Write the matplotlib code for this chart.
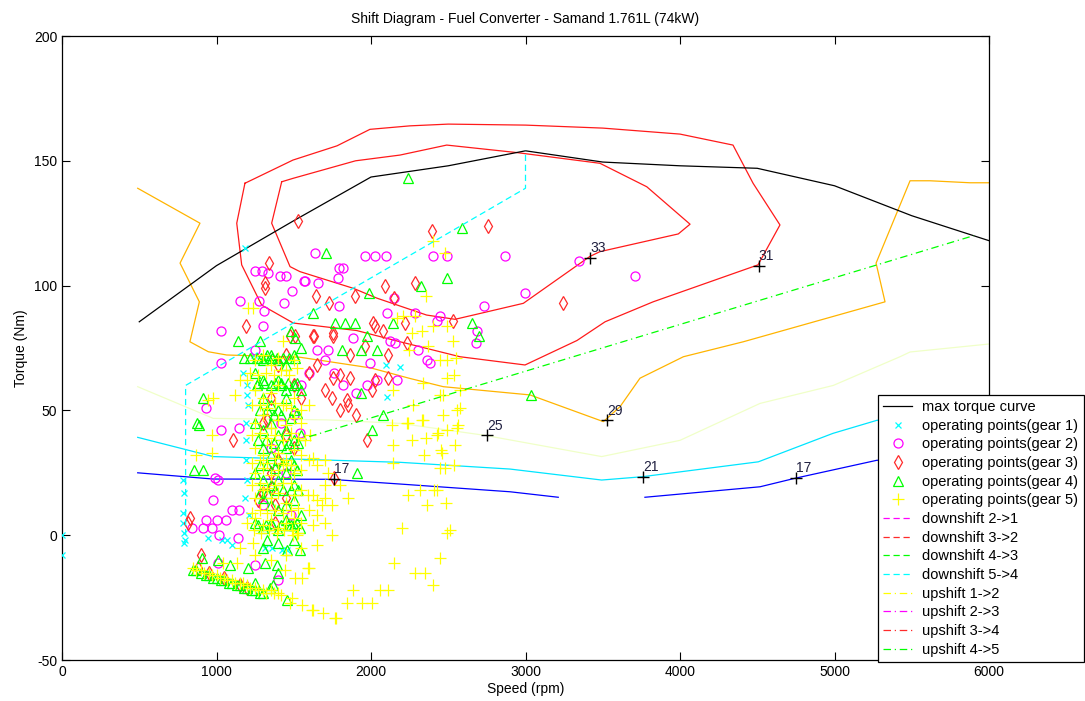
import matplotlib
matplotlib.use("Agg")
import matplotlib.pyplot as plt

plt.rcParams['font.family'] = ['Liberation Sans', 'DejaVu Sans']
plt.rcParams['axes.unicode_minus'] = False

# max torque curve
tq_rpm = [500, 1000, 1500, 2000, 2500, 3000, 3500, 4000, 4500, 5000, 5500, 6000]
tq_max = [85.5, 108, 126, 143.5, 148, 154, 149.5, 148, 147, 140, 128, 118]

# efficiency contour lines
c33_rpm = [1422, 1497, 1900, 2188, 2490, 2943, 3482, 3785, 4065, 3989, 3482, 3417,
           2986, 2662, 2544, 2360, 2037, 1886, 1540, 1476, 1357, 1422]
c33_tq = [141.6, 143, 150, 152.3, 156.3, 153.3, 149, 139.6, 124.6, 120.7, 113.6, 111.7,
          92.9, 88.2, 86.5, 88.2, 95, 98.9, 105.6, 107.6, 125, 141.6]
c31_rpm = [1184, 1495, 1780, 1993, 2252, 2500, 3000, 3500, 4000, 4343, 4473, 4647,
           4505, 3826, 3515, 3333, 2997, 2576, 2188, 1907, 1497, 1292, 1163, 1131, 1184]
c31_tq = [141, 150.3, 156, 162.6, 164, 164.7, 164.3, 163.1, 160.7, 156.3, 141, 124.3,
          108.3, 93.5, 85.5, 78, 68.2, 71.5, 77.5, 82, 85, 92.2, 108.3, 125, 141]
c29_rpm = [490, 893, 764, 889, 828, 947, 1066, 1540, 2000, 2252, 2468, 3029, 3504,
           3612, 3741, 4022, 4410, 5327, 5269, 5489, 5618, 5877, 6000]
c29_tq = [139, 125, 109, 93.5, 77.5, 73.5, 72.2, 71.3, 67, 62.8, 59.5, 56.2, 45.5,
          51.5, 62.9, 71.5, 77.5, 93.5, 109, 142, 142, 141.2, 141.2]
c25_rpm = [490, 979, 1713, 2188, 2738, 3493, 4000, 4518, 4992, 5424, 5489, 6000]
c25_tq = [59.5, 46.8, 46.2, 44.8, 40, 31.5, 38, 52.8, 60, 71.5, 73.4, 76.6]
c21_rpm = [490, 979, 2188, 2900, 3493, 3752, 4507, 4990, 5273, 6000]
c21_tq = [39.2, 31.5, 29.2, 26.5, 22.1, 23.4, 29.4, 40.8, 46, 53]
c17a_rpm = [490, 979, 1735, 2188, 2900, 3212]
c17a_tq = [25, 22.5, 22.4, 20.5, 17.4, 15.2]
c17b_rpm = [3773, 4518, 4744, 5273, 6000]
c17b_tq = [15.2, 19.4, 22.8, 30, 33]

lab_rpm = [3420, 4510, 3530, 2750, 3760, 1760, 4750]
lab_tq = [111, 108, 46, 40, 23.5, 22.5, 23]
lab_txt = ['33', '31', '29', '25', '21', '17', '17']

# shift lines
down54_rpm = [800, 800, 3000, 3000]
down54_tq = [0, 60, 139, 154]
up45_rpm = [1600, 5900]
up45_tq = [39.5, 120]

# operating points
g1_rpm = [0, 0, 792, 785, 781, 790, 796, 792, 785, 947, 1034, 1066, 1100, 1184, 1184,
          1174, 1195, 1195, 1206, 1190, 1190, 1190, 1200, 1314, 1357, 1422, 1454,
          2097, 2188, 2106, 1240, 1210]
g1_tq = [0, -8, 17, 9, 5, 1, -2, -3, 22, -1, -2, -2, -4, 15, 115,
         65, 60, 56, 52, 45, 38, 30, 22, -5, -5, -6, -6,
         68, 67.5, 55.5, 72, 8]

g2_rpm = [1638, 1961, 2026, 2097, 2399, 2490, 2867, 1795, 1820, 1788, 1573, 1659, 1249,
          1292, 1335, 1411, 1448, 1566, 1487, 1152, 1275, 1310, 1437, 1303, 1029, 1249,
          1029, 932, 1029, 1795, 2151, 2997, 2733, 2106, 2285, 2447, 2425, 2684, 2680,
          2123, 1885, 2155, 2306, 2365, 2382, 1994, 2037, 2166, 1972, 3346, 3709, 1724,
          1146, 1540, 990, 1012, 979, 1098, 932, 1001, 1061, 839, 910, 969, 1018, 1141,
          1148, 1012, 1650, 1700, 1600, 1550, 1760, 1820, 1900, 1500, 1420, 1350, 1450,
          1300, 1480, 1250, 1400]
g2_tq = [113, 112, 112, 112, 112, 112, 112, 107, 107, 103, 102, 101, 106,
         106, 105, 104, 104, 102, 98, 94, 94, 90, 93, 84, 82, 74,
         69, 51, 42, 92, 95, 97, 92, 89, 89, 88, 86, 82, 77,
         78, 79, 77, 74, 70, 69, 69, 62, 62, 60, 110, 104, 74,
         43, 41, 23, 22, 14, 10, 6, 6, 6, 3, 3, 3, 0, -1,
         10, -11, 74, 70, 65, 60, 65, 60, 57, 48, 45, 35, 25,
         12, 8, -12, -18]

g3_rpm = [2392, 2755, 2285, 2090, 1896, 1644, 1730, 2220, 2026, 2533, 1961, 2231, 2112,
          1864, 1756, 1627, 2026, 2112, 1864, 1843, 2004, 1754, 1800, 1530, 1342, 1314,
          1314, 2151, 1191, 1508, 1633, 1752, 2015, 2080, 3245, 1109, 828, 901, 1379,
          1357, 1271, 814, 1972, 1303, 1325, 1476, 1762, 1400, 1450, 1500, 1550, 1600,
          1650, 1700, 1750, 1800, 1850, 1900, 1350, 1300, 1450, 1500, 1400, 1350, 1450,
          1380, 880, 950, 1050, 1150, 1200]
g3_tq = [122, 124, 101, 100, 96, 96, 93, 85, 84, 86, 76, 77, 72,
         72, 81, 80, 62, 63, 63, 54, 58, 63, 64, 126, 109, 101,
         99, 95, 84, 80, 80, 80, 85, 82, 93, 38, 7, -8, 12,
         19, 14, 5, 38, 17, 46, 80, 23, 68, 72, 60, 55, 65,
         68, 58, 55, 50, 52, 48, 55, 45, 40, 35, 30, 25, 15,
         5, -13, -15, -17, -20, -21]

g4_rpm = [2239, 2587, 2490, 2322, 1989, 1709, 1627, 1767, 1832, 1896, 1972, 1810, 1935,
          2037, 2144, 2652, 2701, 1933, 3034, 1141, 1282, 1482, 1508, 910, 872, 889,
          2004, 2076, 857, 915, 1907, 1540, 1454, 1314, 1206, 1087, 1249, 1368, 1454,
          904, 1012, 1400, 1346,
          1300, 1350, 1400, 1450, 1500, 1550, 1250, 1300, 1350, 1400, 1450, 1500, 1550,
          1300, 1350, 1400, 1450, 1500, 1250, 1300, 1350, 1400, 1450, 1500, 1550,
          1300, 1350, 1400, 1450, 1500, 1250, 1300, 1350, 1400, 1450, 1500,
          1300, 1350, 1400, 1450, 1500, 1250, 1300, 1350, 1400, 1450, 1500, 1550,
          1300, 1400, 1500, 850, 900, 950, 1000, 1050, 1100, 1150, 1200, 1250, 1300,
          1180, 1220, 1260, 1330, 1420, 1480, 1520,
          1260, 1290, 1320, 1360, 1390, 1430, 1470, 1510, 1270, 1310, 1380, 1420, 1460,
          1520, 1280, 1330, 1370, 1420, 1480, 1520, 1270, 1320, 1370, 1420, 1470, 1530,
          1280, 1330, 1380, 1430, 1480, 1520, 1280, 1330, 1380, 1430, 1480, 1530, 1270,
          1320, 1360, 1420, 1460, 1500, 1540, 1330, 1390, 870, 930, 980, 1030, 1080,
          1130, 1180, 1230, 1280]
g4_tq = [143, 123, 103, 100, 97, 113, 89, 85, 85, 85, 80, 74, 74,
         74, 85, 85, 80, 57, 56, 78, 78, 82, 79, 55, 45, 44,
         42, 48, 26, 26, 25, -6, -6, -11, -13, -12, -19, -20, -26,
         -9, -10, -15, -21,
         70, 72, 70, 68, 72, 75, 65, 62, 60, 62, 58, 60, 58,
         55, 52, 50, 55, 50, 45, 42, 45, 40, 42, 38, 40,
         35, 32, 30, 35, 28, 25, 22, 20, 22, 25, 20,
         15, 12, 10, 12, 14, 5, 3, 5, 2, 6, 4, 8,
         -5, -3, -2, -14, -15, -16, -17, -18, -19, -20, -21, -22, -23,
         71, 71, 60, 72, 60, 4, 5,
         71, 71, 71, 71, 71, 71, 71, 71, 61, 61, 61, 61, 61,
         61, 50, 50, 48, 48, 47, 49, 38, 38, 37, 36, 37, 37,
         28, 28, 27, 28, 30, 26, 17, 17, 18, 18, 18, 18, 4,
         4, 4, 4, 4, 4, 3, -2, -12, -14, -16, -17, -18, -19,
         -20, -21, -22, -23]

g5_rpm = [2274, 2468, 2555, 2576, 2468, 2339, 2235, 2134, 2490, 2555, 2425, 2356, 2263,
          2140, 2544, 2451, 2343, 2144, 2447, 2479, 2537, 2408, 2425, 2242, 2317, 2360,
          2483, 2199, 2490, 2511, 2447, 2151, 2285, 2350, 2399, 2058, 2112, 1886, 1843,
          1940, 2004, 1773, 1692, 1627, 1551, 1476, 1594, 1627, 1594, 1627, 1627, 1573,
          1605,
          2403, 2479, 2356, 2285, 2166, 2209, 2403, 2490, 2328, 2263, 2533, 2371, 2248,
          2447, 2490, 2550, 2537, 2490, 2339, 2140, 2447, 2576, 2242, 2328, 2436, 2563,
          2458,
          979, 969, 867, 969, 1206, 1238, 1433, 1152, 1195, 947, 1120, 1044, 1131, 1238,
          1497, 1519, 1601, 1508, 1551, 1443, 1487, 1616, 1767,
          1250, 1300, 1350, 1400, 1450, 1500, 1250, 1300, 1350, 1400, 1450, 1500, 1550,
          1600, 1250, 1300, 1350, 1400, 1450, 1500, 1550, 1250, 1300, 1350, 1400, 1450,
          1500, 1550, 1600, 1250, 1300, 1350, 1400, 1450, 1500, 1550, 1650, 1700, 1250,
          1300, 1350, 1400, 1450, 1500, 1550, 1650, 1700, 1200, 1250, 1300, 1350, 1400,
          1450, 1500, 1550, 1150, 1250, 1350, 1450, 1550, 870, 920, 970, 1020, 1070,
          1120, 1170, 1220, 1270, 1320, 1370, 1420, 1650, 1700, 1750, 1800, 1750, 1850,
          1220, 1270, 1320, 1370, 1420, 1470, 1520, 1230, 1280, 1330, 1380, 1430, 1480,
          1230, 1280, 1330, 1380, 1430, 1480, 1530, 1230, 1280, 1330, 1380, 1430, 1480,
          1230, 1280, 1330, 1380, 1430, 1480, 1230, 1280, 1330, 1380, 1430, 1480, 1530,
          1240, 1290, 1340, 1390, 1440, 1490, 1530, 850, 900, 950, 1000, 1050, 1100,
          1150, 1200, 1250, 1300, 1350, 1400, 1600, 1650, 1680, 1700, 1720]
g5_tq = [52, 56, 50, 51, 48, 46, 45, 44, 42, 43, 40, 39, 38,
         36, 36, 34, 32, 29, 27, 27, 28, 18, 18, 16, 18, 12,
         13, 3, 1, 2, -9, -11, -15, -15, -20, -22, -22, -22, -27,
         -27, -27, -33, -31, -30, -28, -27, -13, 4, 16, 16, 31, 38,
         40,
         118, 113, 96, 88, 87, 88, 84, 84, 82, 81, 78, 76, 74,
         70, 70, 71, 64, 63, 61, 58, 56, 58, 45, 46, 41, 44,
         33,
         55, 40, 32, 33, 91, 91, 78, 62, 62, 54, 56, -11, -11, -3,
         0, 0, -13, -17, -17, -14, -25, -30, -33,
         70, 72, 68, 71, 66, 70, 58, 55, 57, 60, 52, 55, 50,
         52, 45, 48, 43, 46, 44, 47, 45, 35, 32, 36, 33, 30,
         34, 32, 30, 25, 27, 24, 26, 28, 25, 26, 28, 30, 15,
         18, 15, 17, 13, 16, 18, 14, 15, 5, 7, 4, 6, 3,
         5, 7, 5, -5, -8, -10, -8, -5, -14, -15, -16, -17, -18,
         -19, -19, -21, -22, -23, -23, -24, -4, 5, 12, 20, 0, 15,
         65, 64, 65, 64, 66, 64, 67, 52, 52, 51, 53, 52, 51,
         40, 41, 39, 40, 38, 41, 39, 29, 30, 29, 31, 29, 28,
         20, 21, 19, 20, 21, 21, 9, 10, 9, 10, 9, 10, 11,
         2, 1, 2, 1, 2, 2, 1, -13, -14, -15, -16, -17, -18,
         -19, -20, -21, -22, -22, -23, 10, 8, 12, 20, 25]

CYAN = "#00ffff"
MAGENTA = "#ff00ff"
RED = "#ff2a2a"
GREEN = "#00ff00"
YELLOW = "#ffff00"

fig = plt.figure(figsize=(10.85, 7.01), dpi=100)
ax = fig.add_axes([62 / 1085, 41 / 701, 927 / 1085, 624 / 701])

# contours
lw = 0.9
ax.plot(c17a_rpm, c17a_tq, color="#0000ff", lw=lw, zorder=1)
ax.plot(c17b_rpm, c17b_tq, color="#0000ff", lw=lw, zorder=1)
ax.plot(c21_rpm, c21_tq, color="#00e5ff", lw=lw, zorder=1)
ax.plot(c25_rpm, c25_tq, color="#f0ffc8", lw=lw, zorder=1)
ax.plot(c29_rpm, c29_tq, color="#ffb400", lw=lw, zorder=1)
ax.plot(c31_rpm, c31_tq, color="#ff1a1a", lw=lw, zorder=1)
ax.plot(c33_rpm, c33_tq, color="#ff1a1a", lw=lw, zorder=1)
ax.plot(lab_rpm, lab_tq, "+", color="black", ms=8, mew=1, zorder=6)
for x, y, s in zip(lab_rpm, lab_tq, lab_txt):
    ax.annotate(s, (x, y), xytext=(0, 2), textcoords="offset points",
                fontsize=10, color="#202040", ha="left", va="bottom", zorder=6)

h_max, = ax.plot(tq_rpm, tq_max, color="black", lw=0.9, label="max torque curve", zorder=2)

mk = dict(linestyle="none", mfc="none", mew=0.9, zorder=3)
h1, = ax.plot(g1_rpm, g1_tq, marker="x", color=CYAN, ms=5, label="operating points(gear 1)", **mk)
h2, = ax.plot(g2_rpm, g2_tq, marker="o", color=MAGENTA, ms=6.5, label="operating points(gear 2)", **mk)
h3, = ax.plot(g3_rpm, g3_tq, marker="d", color=RED, ms=7, label="operating points(gear 3)", **mk)
h4, = ax.plot(g4_rpm, g4_tq, marker="^", color=GREEN, ms=7, label="operating points(gear 4)", **mk)
h5, = ax.plot(g5_rpm, g5_tq, marker="+", color=YELLOW, ms=8, label="operating points(gear 5)", **mk)

dash = (0, (5, 3))
dashdot = (0, (6, 3, 1, 3))
d21, = ax.plot([], [], color=MAGENTA, ls=dash, lw=0.9, label="downshift 2->1")
d32, = ax.plot([], [], color=RED, ls=dash, lw=0.9, label="downshift 3->2")
d43, = ax.plot([], [], color=GREEN, ls=dash, lw=0.9, label="downshift 4->3")
d54, = ax.plot(down54_rpm, down54_tq, color=CYAN, ls=dash, lw=0.9, label="downshift 5->4", zorder=4)
u12, = ax.plot([], [], color=YELLOW, ls=dashdot, lw=0.9, label="upshift 1->2")
u23, = ax.plot([], [], color=MAGENTA, ls=dashdot, lw=0.9, label="upshift 2->3")
u34, = ax.plot([], [], color=RED, ls=dashdot, lw=0.9, label="upshift 3->4")
u45, = ax.plot(up45_rpm, up45_tq, color=GREEN, ls=dashdot, lw=0.9, label="upshift 4->5", zorder=4)

ax.set_xlim(0, 6000)
ax.set_ylim(-50, 200)
ax.set_xticks(range(0, 6001, 1000))
ax.set_yticks(range(-50, 201, 50))
ax.tick_params(direction="in", top=True, right=True, length=6, width=0.8, labelsize=10)
for sp in ax.spines.values():
    sp.set_linewidth(0.9)

ax.set_title("Shift Diagram - Fuel Converter - Samand 1.761L (74kW)", fontsize=10, pad=9)
ax.set_xlabel("Speed (rpm)", fontsize=10, labelpad=2)
ax.set_ylabel("Torque (Nm)", fontsize=10, labelpad=4)

handles = [h_max, h1, h2, h3, h4, h5, d21, d32, d43, d54, u12, u23, u34, u45]
leg = ax.legend(handles=handles, loc="upper left",
                bbox_to_anchor=(878 / 1085, 1 - 395 / 701), bbox_transform=fig.transFigure,
                borderaxespad=0, fontsize=10.5, fancybox=False, framealpha=1,
                edgecolor="black", labelspacing=0.32, handlelength=2.0,
                handletextpad=0.7, borderpad=0.35, numpoints=1)
leg.get_frame().set_linewidth(0.9)
leg.set_zorder(10)

fig.savefig("out.png", dpi=100)
